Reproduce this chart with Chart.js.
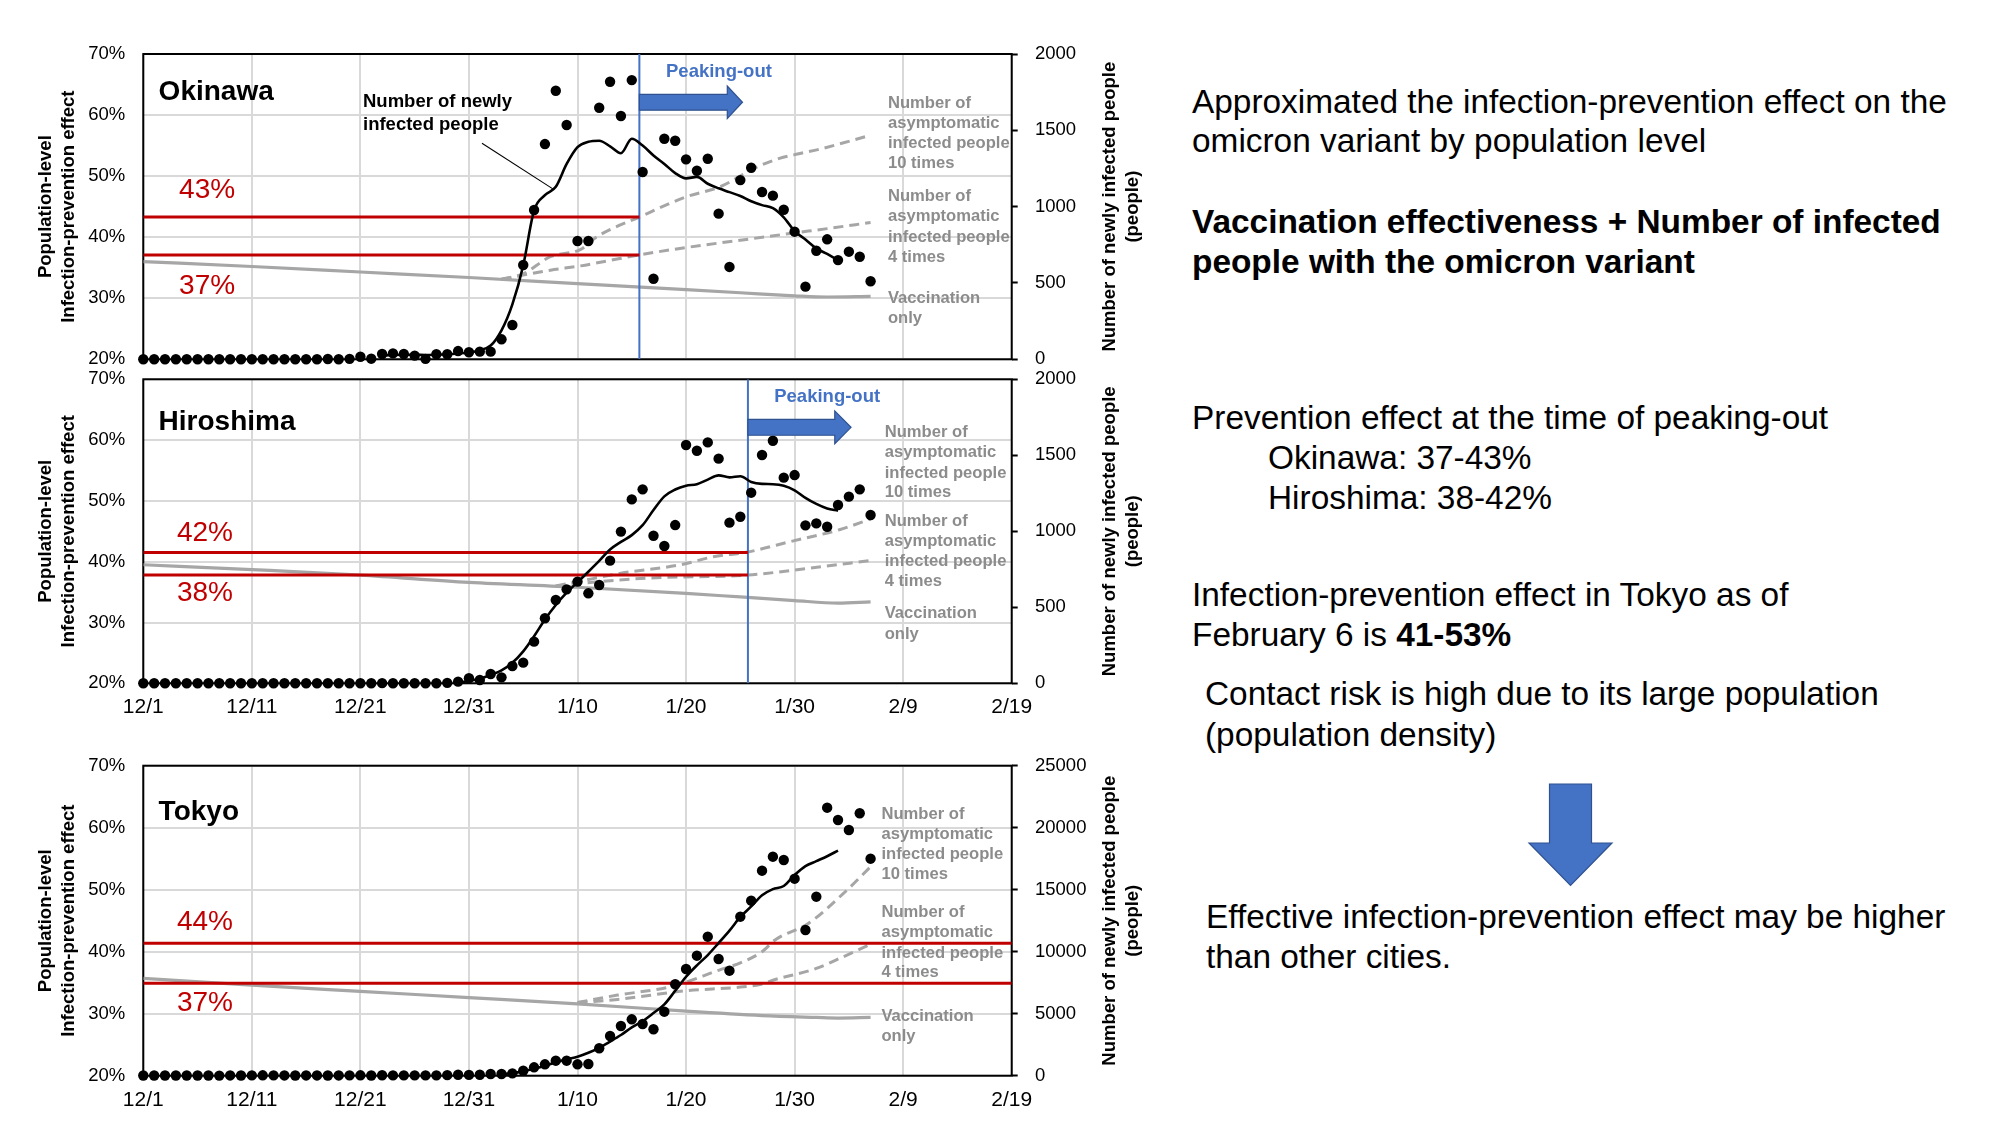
<!DOCTYPE html>
<html><head><meta charset="utf-8">
<script src="https://cdn.jsdelivr.net/npm/chart.js@4.4.1/dist/chart.umd.min.js"></script>
<style>
html,body{margin:0;padding:0;background:#fff;}
body{width:2000px;height:1125px;position:relative;overflow:hidden;font-family:"Liberation Sans",Arial,Helvetica,sans-serif;}
.cv{position:absolute;left:0;width:1160px;}
.t{position:absolute;font-size:33.4px;line-height:40px;white-space:nowrap;color:#000;}
</style></head><body>
<div class="cv" style="top:0;height:370px"><canvas id="c1"></canvas></div>
<div class="cv" style="top:370px;height:360px"><canvas id="c2"></canvas></div>
<div class="cv" style="top:740px;height:385px"><canvas id="c3"></canvas></div>

<div class="t" style="left:1192px;top:81.5px">Approximated the infection-prevention effect on the</div>
<div class="t" style="left:1192px;top:120.6px">omicron variant by population level</div>
<div class="t" style="left:1192px;top:202px"><b>Vaccination effectiveness + Number of infected</b></div>
<div class="t" style="left:1192px;top:241.7px"><b>people with the omicron variant</b></div>
<div class="t" style="left:1192px;top:398px">Prevention effect at the time of peaking-out</div>
<div class="t" style="left:1268px;top:437.8px">Okinawa: 37-43%</div>
<div class="t" style="left:1268px;top:477.5px">Hiroshima: 38-42%</div>
<div class="t" style="left:1192px;top:574.8px">Infection-prevention effect in Tokyo as of</div>
<div class="t" style="left:1192px;top:614.5px">February 6 is <b>41-53%</b></div>
<div class="t" style="left:1205px;top:673.6px">Contact risk is high due to its large population</div>
<div class="t" style="left:1205px;top:714.5px">(population density)</div>
<svg style="position:absolute;left:1521px;top:777px" width="100" height="115">
<polygon points="28.5,7 70.5,7 70.5,66 91,66 49.5,108.5 8,66 28.5,66" fill="#4472C4" stroke="#2F528F" stroke-width="1.2"/>
</svg>
<div class="t" style="left:1206px;top:896.8px">Effective infection-prevention effect may be higher</div>
<div class="t" style="left:1206px;top:936.5px">than other cities.</div>

<script>
// ---------- shared axis labels ----------
const xLabels = ['12/1','12/11','12/21','12/31','1/10','1/20','1/30','2/9','2/19'];
const leftTitle = ['Population-level','Infection-prevention effect'];
const rightTitle = ['Number of newly infected people','(people)'];

// ---------- Okinawa ----------
const okiCases = [0,0,0,0,0,0,0,0,0,0, 0,0,0,0,0,0,0,2,0,3, 17,4,35,39,35,24,3,33,33,54,
  46,50,50,131,225,618,978,1410,1759,1535, 775,775,1648,1818,1594,1829,1227,528,1445,1432,
  1310,1235,1314,954,605,1174,1255,1096,1072,980, 836,476,711,786,650,705,672,511];
const okiAvgStart = 22;
const okiAvg = [25,28,30,30,28,30,33,38,45,60,90,190,360,615,975,1075,1130,1280,1390,1425,1432,1395,1350,1445,1400,1335,1280,1220,1185,1195,1150,1120,1095,1070,1035,1010,990,930,840,785,727,690,650];
const okiVaxDays = [0,10,20,30,40,45,50,55,60,63,67];
const okiVax     = [36.0,35.2,34.3,33.4,32.4,31.9,31.4,30.9,30.4,30.2,30.3];
const oki4Days = [33,35,37.5,40.3,43,45.7,50,55,60,63,67];
const oki4     = [33.1,33.8,34.6,35.3,36.2,37.1,38.3,39.5,40.7,41.4,42.4];
const oki10Days = [33,35,37.5,40.3,41.8,45.7,50,53.2,56.3,58.6,60.5,62.5,67];
const oki10     = [33.1,34.0,36.8,38.0,40.1,43.3,46.6,48.3,51.3,52.9,53.7,54.5,56.7];
const okiRed = [43.3, 37.1];
const okiRedLabels = ['43%','37%'];
const okiPeakDay = 45.7;
const okiLeaderDays = [31.2, 37.8];
const okiLeaderVals = [1415, 1113];

// ---------- Hiroshima ----------
const hiroCases = [0,0,0,0,0,0,0,0,0,0, 0,0,0,0,0,0,0,0,0,0, 0,0,1,0,0,0,0,0,3,11,
  33,22,61,39,114,136,274,428,548,618, 669,592,647,807,998,1210,1276,971,903,1041,
  1568,1530,1585,1478,1057,1096,1254,1502,1596,1353, 1370,1039,1052,1030,1173,1228,1276,1107];
const hiroAvgStart = 29;
const hiroAvg = [5,15,30,55,85,135,210,310,420,515,596,665,734,805,880,930,975,1040,1140,1230,1275,1300,1310,1340,1368,1355,1362,1325,1312,1310,1300,1270,1220,1180,1150,1136];
const hiroVaxDays = [0,10,20,30,40,50,55,60,64,67];
const hiroVax     = [39.5,38.7,37.8,36.6,35.8,34.8,34.2,33.6,33.2,33.4];
const hiro4Days = [38,40,46.4,55.7,61.2,67];
const hiro4     = [36.0,36.4,37.3,37.8,38.9,40.2];
const hiro10Days = [38,40,44,49.5,52.5,55.7,59.6,64.2,67];
const hiro10     = [36.0,36.7,38.1,39.5,40.8,41.6,43.3,45.3,47.0];
const hiroRed = [41.5, 37.8];
const hiroRedLabels = ['42%','38%'];
const hiroPeakDay = 55.7;

// ---------- Tokyo ----------
const tokyoCases = [15,20,12,12,20,16,14,10,21,16, 25,31,29,22,20,21,21,19,21,27, 31,17,37,26,30,27,25,30,46,76,
  64,80,137,137,190,403,677,919,1210,1210, 919,946,2210,3202,4008,4548,4170,3742,5162,7371,
  8605,9678,11210,9412,8468,12823,14114,16533,17662,17396, 15888,11751,14437,21614,20622,19816,21163,17501];
const tokyoAvgStart = 33;
const tokyoAvg = [120,200,350,560,800,1080,1330,1530,1850,2250,2750,3280,3900,4400,5050,5750,6850,7980,8900,9730,10700,11700,12800,13650,14550,15050,15300,16180,16900,17300,17700,18150];
const tokyoVaxDays = [0,10,20,30,40,50,57,62,64,67];
const tokyoVax     = [35.7,34.6,33.6,32.6,31.6,30.4,29.7,29.4,29.3,29.4];
const tokyo4Days = [40,43.7,50,55,57,58,62,64.5,67];
const tokyo4     = [31.8,32.3,33.7,34.3,34.8,35.4,37.3,39.2,41.2];
const tokyo10Days = [40,43.7,48.7,53,55,57,58.2,61.3,64.5,67];
const tokyo10     = [31.8,33.0,34.4,37.0,38.2,40.0,41.9,44.6,49.4,53.7];
const tokyoRed = [41.35, 34.9];
const tokyoRedLabels = ['44%','37%'];

// ---------- helpers ----------
const FAM = '"Liberation Sans", Arial, Helvetica, sans-serif';
Chart.defaults.font.family = FAM;
function pairs(xs, ys){ return xs.map((x,i)=>({x:x, y:ys[i]})); }
function daily(vals, start){ return vals.map((v,i)=>({x:start+i, y:v})); }
const GRAYTXT = '#8C8C8C';

const deco = {
  id:'deco',
  beforeDatasetsDraw(chart){
    const {ctx, chartArea:a} = chart;
    ctx.save(); ctx.strokeStyle='#000'; ctx.lineWidth=2;
    ctx.strokeRect(a.left, a.top, a.right-a.left, a.bottom-a.top);
    ctx.restore();
  },
  afterDatasetsDraw(chart, args, o){
    const {ctx, chartArea:a} = chart;
    const xs = chart.scales.x, ys = chart.scales.y;
    ctx.save();
    if (o.arrow){
      const r = o.arrow;
      const X0 = xs.getPixelForValue(r.x0), X1 = xs.getPixelForValue(r.x1), X2 = xs.getPixelForValue(r.x2);
      const Yc = ys.getPixelForValue(r.y);
      const bh = Math.abs(ys.getPixelForValue(r.y + r.bh) - Yc);
      const hh = Math.abs(ys.getPixelForValue(r.y + r.hh) - Yc);
      ctx.beginPath();
      ctx.moveTo(X0, Yc-bh); ctx.lineTo(X1, Yc-bh); ctx.lineTo(X1, Yc-hh); ctx.lineTo(X2, Yc);
      ctx.lineTo(X1, Yc+hh); ctx.lineTo(X1, Yc+bh); ctx.lineTo(X0, Yc+bh); ctx.closePath();
      ctx.fillStyle = '#4472C4'; ctx.fill();
      ctx.strokeStyle = '#2F528F'; ctx.lineWidth = 1.2; ctx.stroke();
    }
    ctx.textBaseline = 'middle';
    (o.texts||[]).forEach(t=>{
      ctx.font = t.font + ' ' + FAM;
      ctx.fillStyle = t.color || '#000';
      ctx.textAlign = t.align || 'left';
      ctx.fillText(t.t, xs.getPixelForValue(t.x), ys.getPixelForValue(t.y));
    });
    // right axis title, reading bottom-to-top
    ctx.font = 'bold 18.5px ' + FAM; ctx.fillStyle = '#000'; ctx.textAlign = 'center';
    const cy = (a.top + a.bottom)/2;
    rightTitle.forEach((line, i)=>{
      ctx.save();
      ctx.translate(a.right + 98.3 + i*23, cy);
      ctx.rotate(-Math.PI/2);
      ctx.fillText(line, 0, 0);
      ctx.restore();
    });
    ctx.restore();
  }
};

function grayNotes(x, ys3){
  const blocks = [['Number of','asymptomatic','infected people','10 times'],
                  ['Number of','asymptomatic','infected people','4 times'],
                  ['Vaccination','only']];
  const out = [];
  blocks.forEach((b,bi)=> b.forEach((s,li)=> out.push({t:s, x:x, y:ys3[bi][li], font:'bold 16.6px', color:GRAYTXT})));
  return out;
}

function noPad(s){ s.paddingTop = 0; s.paddingBottom = 0; s.paddingLeft = 0; s.paddingRight = 0; }

function build(id, cfg){
  const datasets = [];
  datasets.push({type:'scatter', data: daily(cfg.cases, 0), yAxisID:'y2', pointRadius:5.2, pointHoverRadius:5.2,
    backgroundColor:'#000', borderColor:'#000', borderWidth:0, clip:false});
  datasets.push({type:'line', data: daily(cfg.avg, cfg.avgStart), yAxisID:'y2', borderColor:'#000', borderWidth:2.6,
    pointRadius:0, cubicInterpolationMode:'monotone', fill:false});
  if (cfg.leader) datasets.push({type:'line', data: cfg.leader, yAxisID:'y2', borderColor:'#000', borderWidth:1.1, pointRadius:0});
  cfg.red.forEach(v=> datasets.push({type:'line', data:[{x:0,y:v},{x:cfg.redEnd,y:v}], yAxisID:'y',
    borderColor:'#C00000', borderWidth:3, pointRadius:0}));
  if (cfg.peak !== undefined) datasets.push({type:'line', data:[{x:cfg.peak,y:20},{x:cfg.peak,y:70}], yAxisID:'y',
    borderColor:'#4472C4', borderWidth:2, pointRadius:0});
  datasets.push({type:'line', data: cfg.ten, yAxisID:'y', borderColor:'#A6A6A6', borderWidth:3, borderDash:[10,6],
    pointRadius:0, cubicInterpolationMode:'monotone'});
  datasets.push({type:'line', data: cfg.four, yAxisID:'y', borderColor:'#A6A6A6', borderWidth:3, borderDash:[10,6],
    pointRadius:0, cubicInterpolationMode:'monotone'});
  datasets.push({type:'line', data: cfg.vax, yAxisID:'y', borderColor:'#A6A6A6', borderWidth:3.2,
    pointRadius:0, cubicInterpolationMode:'monotone'});

  new Chart(document.getElementById(id), {
    data:{datasets},
    options:{
      responsive:true, maintainAspectRatio:false, animation:false,
      layout:{autoPadding:false, padding:{left:34, right:0, top:cfg.padTop, bottom:0}},
      plugins:{legend:{display:false}, tooltip:{enabled:false}, deco:cfg.deco},
      scales:{
        x:{type:'linear', min:0, max:80, position:'bottom',
          ticks:{display:cfg.showX, stepSize:10, autoSkip:false, maxRotation:0,
            callback:v=>xLabels[Math.round(v/10)], font:{size:21}, color:'#000', padding:11.7},
          grid:{color:'#D9D9D9', lineWidth:2, drawTicks:false}, border:{display:false},
          afterFit(s){ s.height = cfg.xh; noPad(s); }},
        y:{type:'linear', position:'left', min:20, max:70,
          ticks:{stepSize:10, callback:v=>v+'%', font:{size:18.5, lineHeight:1}, color:'#000', padding:18},
          grid:{color:'#D9D9D9', lineWidth:2, drawTicks:false}, border:{display:false},
          title:{display:true, text:leftTitle, color:'#000', padding:0, font:{size:18.5, weight:'bold', lineHeight:1.243}},
          afterFit(s){ s.width = 109.3; noPad(s); }},
        y2:{type:'linear', position:'right', min:0, max:cfg.rMax,
          ticks:{stepSize:cfg.rStep, callback:v=>String(v), font:{size:18.5, lineHeight:1}, color:'#000', padding:17.3},
          grid:{drawOnChartArea:false, drawTicks:true, tickLength:6, tickColor:'#000', tickWidth:2, color:'#000'},
          border:{display:false},
          afterFit(s){ s.width = 148.3; noPad(s); }}
      }
    },
    plugins:[deco]
  });
}

build('c1', {
  cases: okiCases, avg: okiAvg, avgStart: okiAvgStart,
  vax: pairs(okiVaxDays, okiVax), four: pairs(oki4Days, oki4), ten: pairs(oki10Days, oki10),
  red: okiRed, redEnd: okiPeakDay, peak: okiPeakDay,
  leader: pairs(okiLeaderDays, okiLeaderVals),
  rMax:2000, rStep:500, padTop:54, xh:10.7, showX:false,
  deco:{
    arrow:{x0:okiPeakDay, x1:okiPeakDay+8.1, x2:okiPeakDay+9.5, y:62.1, bh:1.3, hh:2.65},
    texts:[
      {t:'Okinawa', x:1.41, y:63.8, font:'bold 28px'},
      {t:okiRedLabels[0], x:3.3, y:47.6, font:'28px', color:'#C00000'},
      {t:okiRedLabels[1], x:3.3, y:31.9, font:'28px', color:'#C00000'},
      {t:'Number of newly', x:20.24, y:62.2, font:'bold 18.5px'},
      {t:'infected people', x:20.24, y:58.4, font:'bold 18.5px'},
      {t:'Peaking-out', x:53.03, y:67.1, font:'bold 18.5px', color:'#4472C4', align:'center'}
    ].concat(grayNotes(68.6, [[61.9,58.65,55.4,52.1],[46.6,43.35,40.0,36.7],[30.0,26.7]]))
  }
});

build('c2', {
  cases: hiroCases, avg: hiroAvg, avgStart: hiroAvgStart,
  vax: pairs(hiroVaxDays, hiroVax), four: pairs(hiro4Days, hiro4), ten: pairs(hiro10Days, hiro10),
  red: hiroRed, redEnd: hiroPeakDay, peak: hiroPeakDay,
  rMax:2000, rStep:500, padTop:9.3, xh:46.7, showX:true,
  deco:{
    arrow:{x0:hiroPeakDay, x1:hiroPeakDay+8.0, x2:hiroPeakDay+9.5, y:62.1, bh:1.3, hh:2.7},
    texts:[
      {t:'Hiroshima', x:1.41, y:63.0, font:'bold 28px'},
      {t:hiroRedLabels[0], x:3.1, y:44.72, font:'28px', color:'#C00000'},
      {t:hiroRedLabels[1], x:3.1, y:34.85, font:'28px', color:'#C00000'},
      {t:'Peaking-out', x:63.0, y:67.1, font:'bold 18.5px', color:'#4472C4', align:'center'}
    ].concat(grayNotes(68.3, [[61.2,57.9,54.6,51.35],[46.6,43.3,40.0,36.7],[31.5,28.1]]))
  }
});

build('c3', {
  cases: tokyoCases, avg: tokyoAvg, avgStart: tokyoAvgStart,
  vax: pairs(tokyoVaxDays, tokyoVax), four: pairs(tokyo4Days, tokyo4), ten: pairs(tokyo10Days, tokyo10),
  red: tokyoRed, redEnd: 80,
  rMax:25000, rStep:5000, padTop:25.7, xh:49.3, showX:true,
  deco:{
    texts:[
      {t:'Tokyo', x:1.41, y:62.5, font:'bold 28px'},
      {t:tokyoRedLabels[0], x:3.1, y:44.8, font:'28px', color:'#C00000'},
      {t:tokyoRedLabels[1], x:3.1, y:31.7, font:'28px', color:'#C00000'}
    ].concat(grayNotes(68.0, [[62.2,58.9,55.7,52.5],[46.3,43.1,39.8,36.6],[29.5,26.3]]))
  }
});
</script>
</body></html>
